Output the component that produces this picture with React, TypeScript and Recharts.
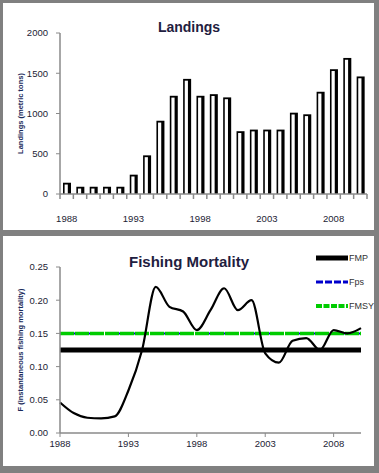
import React from 'react';
import { BarChart, Bar, LineChart, Line, XAxis, YAxis, Legend } from 'recharts';

const years = ['1988','1989','1990','1991','1992','1993','1994','1995','1996','1997','1998','1999','2000','2001','2002','2003','2004','2005','2006','2007','2008','2009','2010'];
const landings = [140, 90, 90, 90, 90, 240, 480, 910, 1220, 1430, 1220, 1240, 1200, 780, 800, 800, 800, 1010, 990, 1270, 1550, 1690, 1460];
const fishingMortality = [0.046, 0.030, 0.023, 0.022, 0.025, 0.064, 0.125, 0.220, 0.190, 0.183, 0.155, 0.185, 0.218, 0.185, 0.200, 0.120, 0.106, 0.139, 0.143, 0.125, 0.155, 0.150, 0.158];
const FMP = 0.125;
const FPS = 0.15;
const FMSY = 0.15;
const labeledYears = ['1988', '1993', '1998', '2003', '2008'];
const landingsTicks = [0, 500, 1000, 1500, 2000];
const fTicks = [0, 0.05, 0.1, 0.15, 0.2, 0.25];
const legendOrder = ['FMP', 'Fps', 'FMSY'];

const AXIS = '#8a8a8a';
const TEXT = '#1c1c34';
const FONT = '"Liberation Sans", Arial, sans-serif';

const landingRows = years.map((year, i) => ({ year, landings: landings[i] }));
const fRows = years.map((year, i) => ({ year, f: fishingMortality[i], fmp: FMP, fps: FPS, fmsy: FMSY }));

const TOP_W = 372;
const TOP_H = 227;
const TOP_MARGIN = { top: 30, right: 8, bottom: 6, left: 0 };
const Y_W = 57;
const BAND = (TOP_W - Y_W - TOP_MARGIN.right) / years.length;

const BarTick = (props: any) => {
  const { x, y, payload, index } = props;
  const half = BAND / 2;
  return (
    <g>
      <line x1={x - half} x2={x - half} y1={y} y2={y + 5} stroke={AXIS} strokeWidth={1.5} />
      {index === years.length - 1 && (
        <line x1={x + half} x2={x + half} y1={y} y2={y + 5} stroke={AXIS} strokeWidth={1.5} />
      )}
      {labeledYears.includes(payload.value) && (
        <text x={x} y={y + 24} textAnchor="middle" dominantBaseline="central" fontSize={9.5} fill={TEXT} fontFamily={FONT}>
          {payload.value}
        </text>
      )}
    </g>
  );
};

const BarShape = (props: any) => {
  const { x, y, width, height } = props;
  if (!height || height <= 0) return null;
  return (
    <g>
      <rect x={x} y={y} width={width} height={height} fill="#000" />
      <rect x={x + 1.6} y={y + 1.8} width={Math.max(0, width * 0.4)} height={Math.max(0, height - 1.8)} fill="#fff" />
    </g>
  );
};

const RotLabel = (text: string, dx: number) => (props: any) => {
  const vb = props.viewBox || {};
  const cx = vb.x + vb.width / 2 + dx;
  const cy = vb.y + vb.height / 2;
  return (
    <text
      x={cx}
      y={cy}
      transform={`rotate(-90, ${cx}, ${cy})`}
      textAnchor="middle"
      dominantBaseline="central"
      fontSize={7.5}
      fontWeight="bold"
      fill="#1a2a5a"
      fontFamily={FONT}
    >
      {text}
    </text>
  );
};

const legendStyles: Record<string, { stroke: string; w: number; dash?: string }> = {
  FMP: { stroke: '#000', w: 5 },
  Fps: { stroke: '#0000cc', w: 3, dash: '7 2' },
  FMSY: { stroke: '#00cc00', w: 4, dash: '6 1.5' },
};

const renderLegend = (props: any) => {
  const items = (props.payload || [])
    .filter((p: any) => legendStyles[p.value])
    .sort((a: any, b: any) => legendOrder.indexOf(a.value) - legendOrder.indexOf(b.value));
  return (
    <div style={{ fontFamily: FONT }}>
      {items.map((p: any) => {
        const s = legendStyles[p.value];
        return (
          <div key={p.value} style={{ display: 'flex', alignItems: 'center', height: 24 }}>
            <svg width={32} height={8} style={{ display: 'block' }}>
              <line x1={0} x2={32} y1={4} y2={4} stroke={s.stroke} strokeWidth={s.w} strokeDasharray={s.dash} />
            </svg>
            <span style={{ fontSize: 9, color: '#333', marginLeft: 1, lineHeight: '10px' }}>{p.value}</span>
          </div>
        );
      })}
    </div>
  );
};

const titleStyle: React.CSSProperties = {
  position: 'absolute',
  left: 0,
  width: 372,
  textAlign: 'center',
  fontFamily: FONT,
  fontWeight: 'bold',
  color: '#1f2040',
  lineHeight: '18px',
  zIndex: 2,
};

export default function App() {
  return (
    <div style={{ position: 'absolute', left: 0, top: 0, width: 379, height: 473, background: '#808080', fontFamily: FONT }}>
      <div style={{ position: 'absolute', left: 3, top: 3, width: 371, height: 227, background: '#fff' }}>
        <div style={{ ...titleStyle, top: 15, fontSize: 14 }}>Landings</div>
        <BarChart width={TOP_W} height={TOP_H} data={landingRows} margin={TOP_MARGIN} barSize={8}>
          <XAxis
            dataKey="year"
            interval={0}
            tick={<BarTick />}
            tickLine={false}
            tickSize={0}
            tickMargin={0}
            height={30}
            axisLine={{ stroke: AXIS, strokeWidth: 1.5 }}
          />
          <YAxis
            width={Y_W}
            domain={[0, 2000]}
            ticks={landingsTicks}
            interval={0}
            tickSize={4}
            tickMargin={8}
            tick={{ fontSize: 9.5, fill: TEXT, fontFamily: FONT }}
            tickLine={{ stroke: AXIS }}
            axisLine={{ stroke: AXIS, strokeWidth: 1.5 }}
            label={{ content: RotLabel('Landings (metric tons)', -11) }}
          />
          <Bar dataKey="landings" isAnimationActive={false} shape={<BarShape />} />
        </BarChart>
      </div>
      <div style={{ position: 'absolute', left: 3, top: 236, width: 371, height: 230, background: '#fff' }}>
        <div style={{ ...titleStyle, top: 17, fontSize: 15 }}>Fishing Mortality</div>
        <LineChart width={372} height={230} data={fRows} margin={{ top: 31, right: 14, bottom: 3, left: 0 }}>
          <XAxis
            dataKey="year"
            interval={4}
            height={30}
            tickSize={4}
            tickMargin={3}
            tick={{ fontSize: 9.5, fill: TEXT, fontFamily: FONT }}
            tickLine={{ stroke: AXIS }}
            axisLine={{ stroke: AXIS, strokeWidth: 1.5 }}
          />
          <YAxis
            width={Y_W}
            domain={[0, 0.25]}
            ticks={fTicks}
            interval={0}
            tickSize={4}
            tickMargin={8}
            tickFormatter={(v: number) => v.toFixed(2)}
            tick={{ fontSize: 9.5, fill: TEXT, fontFamily: FONT }}
            tickLine={{ stroke: AXIS }}
            axisLine={{ stroke: AXIS, strokeWidth: 1.5 }}
            label={{ content: RotLabel('F (instantaneous fishing mortality)', -11) }}
          />
          <Legend
            layout="vertical"
            align="center"
            verticalAlign="middle"
            content={renderLegend}
            wrapperStyle={{ left: 313, top: 10, width: 60 }}
          />
          <Line dataKey="fmp" name="FMP" stroke="#000" strokeWidth={5} dot={false} activeDot={false} isAnimationActive={false} />
          <Line dataKey="fps" name="Fps" stroke="#0000cc" strokeWidth={2} strokeDasharray="7 2" dot={false} activeDot={false} isAnimationActive={false} />
          <Line dataKey="fmsy" name="FMSY" stroke="#00cc00" strokeWidth={3.5} strokeDasharray="14 1" dot={false} activeDot={false} isAnimationActive={false} />
          <Line dataKey="f" name="F" type="monotone" stroke="#000" strokeWidth={2.2} dot={false} activeDot={false} legendType="none" isAnimationActive={false} />
        </LineChart>
      </div>
    </div>
  );
}
